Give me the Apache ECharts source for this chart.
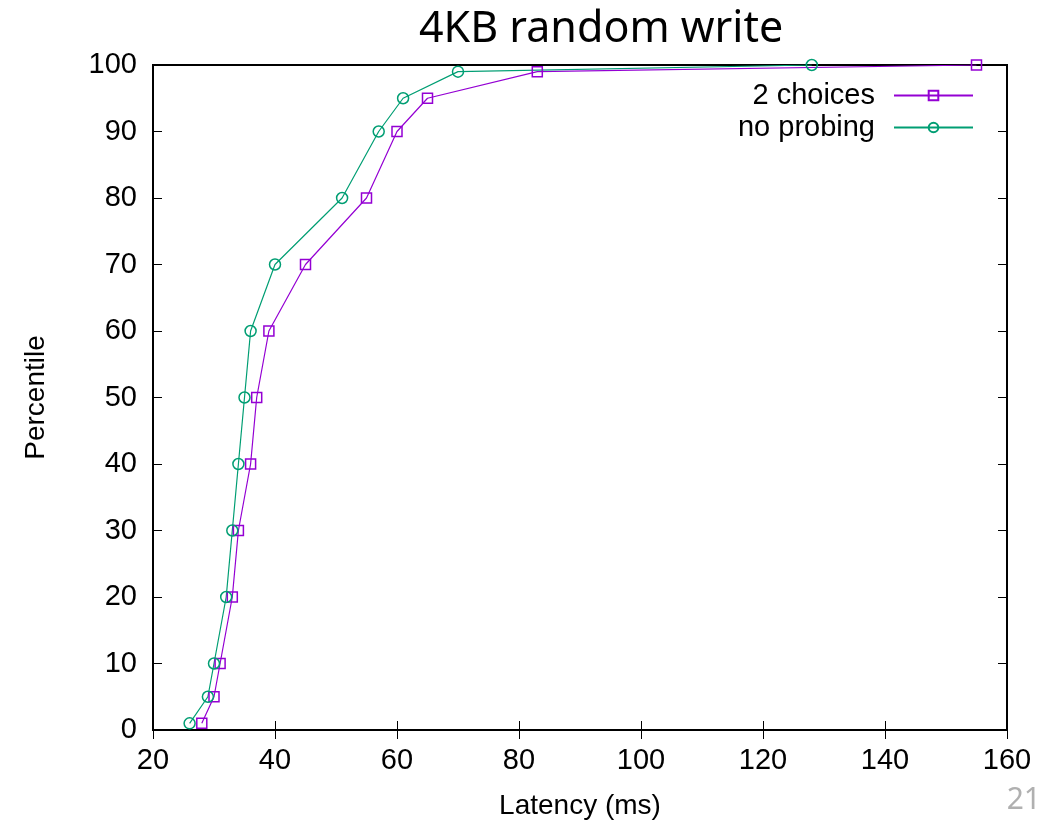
<!DOCTYPE html>
<html>
<head>
<meta charset="utf-8">
<script src="https://cdn.jsdelivr.net/npm/echarts@6/dist/echarts.min.js"></script>
<style>
  html, body { margin: 0; padding: 0; background: #fff; }
  #chart { width: 1063px; height: 827px; }
</style>
</head>
<body>
<div id="chart"></div>
<script>
// percentiles shared by both series
const percentiles = [1, 5, 10, 20, 30, 40, 50, 60, 70, 80, 90, 95, 99, 100];
// latency (ms) at each percentile
const twoChoices = [28, 30, 31, 33, 34, 36, 37, 39, 45, 55, 60, 65, 83, 155];
const noProbing = [26, 29, 30, 32, 33, 34, 35, 36, 40, 51, 57, 61, 70, 128];

const font = 'Liberation Sans';
const chart = echarts.init(document.getElementById('chart'));

function pairs(xs) {
  return xs.map((x, i) => [x, percentiles[i]]);
}

const tickStyle = { show: true, inside: true, length: 9, lineStyle: { color: '#000', width: 1 } };

const option = {
  animation: false,
  backgroundColor: '#fff',
  title: {
    text: '4KB random write',
    left: 414,
    top: 3,
    textStyle: { fontFamily: 'Noto Sans', fontWeight: 'normal', fontSize: 43, color: '#000' }
  },
  grid: {
    left: 153, right: 56, top: 65, bottom: 97,
    show: true, borderColor: '#000', borderWidth: 2, backgroundColor: 'transparent'
  },
  legend: {
    orient: 'vertical',
    right: 84,
    top: 76,
    align: 'right',
    itemWidth: 79,
    itemHeight: 12,
    itemGap: 3,
    textStyle: { fontFamily: font, fontSize: 29, color: '#000', padding: [0, 14, 0, 0] },
    data: ['2 choices', 'no probing']
  },
  xAxis: [
    {
      type: 'value', min: 20, max: 160, interval: 20,
      name: 'Latency (ms)', nameLocation: 'middle', nameGap: 62,
      nameTextStyle: { fontFamily: font, fontSize: 28, color: '#000' },
      axisLine: { show: true, lineStyle: { color: '#000', width: 2 } },
      axisTick: tickStyle,
      axisLabel: { fontFamily: font, fontSize: 29, color: '#000', margin: 16 },
      splitLine: { show: false }
    },
    {
      type: 'value', min: 20, max: 160, interval: 20, position: 'top',
      axisLine: { show: false }, axisTick: tickStyle,
      axisLabel: { show: false }, splitLine: { show: false }
    }
  ],
  yAxis: [
    {
      type: 'value', min: 0, max: 100, interval: 10,
      name: 'Percentile', nameLocation: 'middle', nameGap: 103, nameRotate: 90,
      nameTextStyle: { fontFamily: font, fontSize: 28, color: '#000' },
      axisLine: { show: true, lineStyle: { color: '#000', width: 2 } },
      axisTick: tickStyle,
      axisLabel: { fontFamily: font, fontSize: 29, color: '#000', margin: 16 },
      splitLine: { show: false }
    },
    {
      type: 'value', min: 0, max: 100, interval: 10, position: 'right',
      axisLine: { show: false }, axisTick: tickStyle,
      axisLabel: { show: false }, splitLine: { show: false }
    }
  ],
  series: [
    {
      name: '2 choices',
      type: 'line',
      data: pairs(twoChoices),
      symbol: 'rect',
      symbolSize: 10,
      lineStyle: { color: '#9400d3', width: 1.2 },
      itemStyle: { color: 'rgba(255,255,255,0)', borderColor: '#9400d3', borderWidth: 1.5 }
    },
    {
      name: 'no probing',
      type: 'line',
      data: pairs(noProbing),
      symbol: 'circle',
      symbolSize: 11,
      lineStyle: { color: '#009e73', width: 1.2 },
      itemStyle: { color: 'rgba(255,255,255,0)', borderColor: '#009e73', borderWidth: 1.5 }
    }
  ],
  graphic: [
    {
      type: 'text', right: 22, top: 785,
      style: { text: '21', fontFamily: 'Noto Sans', fontSize: 30, fill: '#b0b0b0' }
    }
  ]
};

chart.setOption(option);
</script>
</body>
</html>
